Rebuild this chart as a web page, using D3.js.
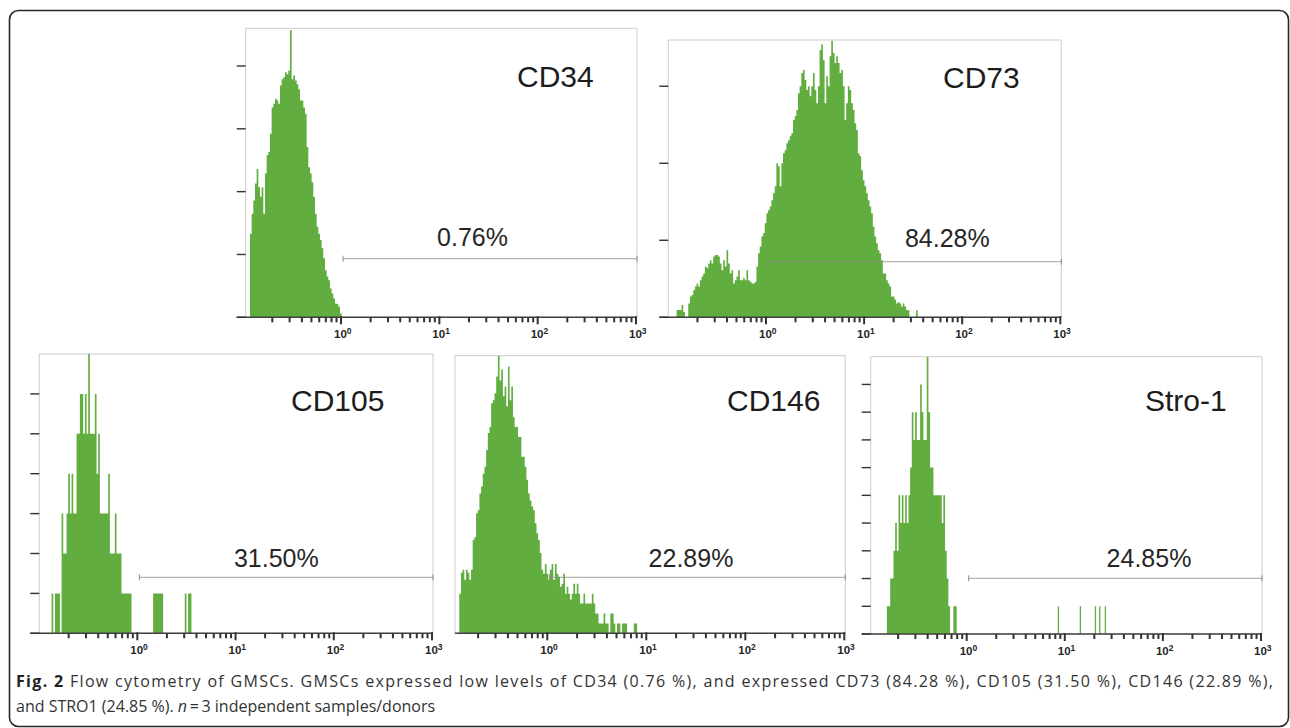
<!DOCTYPE html>
<html>
<head>
<meta charset="utf-8">
<script src="https://cdn.jsdelivr.net/npm/d3@7"></script>
<style>
  body { margin: 0; background: #fff; }
  svg { display: block; }
  .box { fill: none; stroke: #cdcdcd; stroke-width: 1; }
  .axis-line { stroke: #404040; stroke-width: 1.4; }
  .tk { fill: #333; }
  .hist { fill: #62ad3f; }
  .gate { stroke: #8c8c8c; stroke-width: 1; }
  .marker { font-family: "Liberation Sans", Arial, sans-serif; font-size: 30px; fill: #1c1c1c; }
  .pct { font-family: "Liberation Sans", Arial, sans-serif; font-size: 25px; fill: #262626; text-anchor: middle; }
  .dec { font-family: "Liberation Sans", Arial, sans-serif; font-size: 11.5px; font-weight: bold; fill: #262626; }
  .caption { font-family: "Open Sans", sans-serif; font-size: 16px; fill: #333; }
</style>
</head>
<body>
<div id="chart-area"></div>
<script>
const markers = ["CD34", "CD73", "CD105", "CD146", "Stro-1"];
const positiveLabels = ["0.76%", "84.28%", "31.50%", "22.89%", "24.85%"];
const decades = [0.1, 1, 10, 100];
const decadeTicks = [1, 10, 100, 1000];
const decadeExponents = ["0", "1", "2", "3"];
const minorSteps = [2, 3, 4, 5, 6, 7, 8, 9];
const binsPerDecade = 59;

// counts per channel (channel 0 starts at firstChannel)
const cd34Counts = [13.3, 16.5, 18.6, 21.3, 23.6, 20.7, 19.2, 20.7, 16.5, 22.9, 25.8, 26.3, 29.2, 33.4, 34.0,
    34.8, 34.5, 34.0, 36.9, 37.9, 38.2, 39.0, 38.7, 39.3, 45.7, 37.9, 38.5, 37.7, 37.1, 36.3, 34.5, 34.5, 33.4,
    32.4, 27.1, 23.9, 22.9, 21.5, 19.2, 16.5, 14.4, 13.3, 12.3, 11.0, 9.4, 7.5, 6.5, 5.9, 4.6, 3.8, 3.0, 2.2,
    2.1, 1.7, 0.6];
const cd73Counts = [0.95, 0.95, 0.95, 1.6, 0.7, 0, 0, 1.8, 2.7, 2.9,
    3.5, 4.0, 4.4, 4.0, 4.8, 5.3, 5.7, 6.6, 6.4, 7.0,
    7.4, 7.0, 7.9, 8.1, 8.1, 7.9, 7.0, 6.1, 7.4, 6.6,
    8.7, 7.0, 5.7, 6.1, 4.4, 4.8, 5.3, 6.1, 4.8, 4.8,
    5.1, 4.8, 6.1, 4.8, 4.6, 4.4, 4.4, 4.6, 6.6, 8.3,
    9.2, 10.5, 10.9, 12.2, 13.5, 13.9, 14.4, 15.2, 16.1, 17.0,
    20.0, 19.6, 17.0, 20.0, 21.3, 21.7, 22.6, 23.0, 23.5, 23.9,
    25.6, 26.1, 26.9, 29.1, 30.0, 31.7, 32.1, 30.8, 29.5, 30.0,
    28.7, 30.0, 31.7, 29.5, 27.8, 30.0, 34.7, 35.4, 33.4, 27.8,
    31.3, 30.0, 33.9, 35.9, 34.3, 33.0, 33.9, 33.0, 31.7, 32.1,
    30.0, 25.6, 27.8, 30.0, 29.5, 27.8, 26.9, 25.2, 24.3, 21.3,
    20.9, 19.1, 17.8, 17.0, 16.1, 15.2, 14.4, 13.5, 11.8, 10.5,
    9.6, 8.7, 8.3, 7.4, 5.7, 5.7, 4.8, 4.4, 4.0, 2.7,
    2.7, 2.3, 1.8, 2.0, 1.8, 1.4, 1.8, 1.4, 0.95, 0.9,
    0, 0, 0, 0, 0.9];
const cd105Counts = [1, 0, 1, 1, 1, 0, 3, 2, 2, 3, 4, 3, 4, 3, 3, 5, 5, 6, 6, 5, 6, 5, 7, 5, 5, 5, 6, 4, 5, 3,
    3, 3, 3, 3, 4, 2, 2, 2, 3, 2, 2, 2, 1, 1, 1, 1, 1, 1,
    0, 0, 0, 0, 0, 0, 0, 0, 0, 0, 0, 0, 0,
    1, 1, 1, 1, 1, 1,
    0, 0, 0, 0, 0, 0, 0, 0, 0, 0, 0, 0, 0,
    1, 0, 1, 1];
const cd146Counts = [4.0, 6.1, 6.4, 5.4, 6.4, 6.1, 5.4, 6.4, 9.4, 9.7,
    12.1, 12.4, 14.1, 14.8, 16.1, 16.8, 18.5, 20.2, 20.8, 23.2,
    23.5, 24.2, 25.9, 28.0, 25.5, 26.6, 23.9, 24.9, 22.9, 26.9,
    23.5, 24.9, 21.8, 20.8, 20.8, 19.8, 19.8, 17.8, 17.8, 16.8,
    15.5, 14.1, 13.4, 12.8, 12.4, 11.1, 10.1, 9.4, 8.1, 6.4,
    6, 7, 6, 5.4, 6.4, 7, 5.4, 7, 6, 5.7,
    4.7, 5, 6, 4, 4.7, 4, 3.4, 4, 5, 4,
    5, 4, 3, 3, 4, 3, 3, 3, 3, 4,
    3, 2, 2, 1, 1, 1, 2, 1, 1, 0,
    2, 2, 1, 0, 1, 1, 0, 1, 1, 1,
    0, 0, 0, 0, 1, 1];
const stro1Counts = [1, 1, 2, 2, 3, 4, 3, 5, 4, 5, 4, 5, 4, 5, 6, 8, 7, 8, 7, 7, 9, 8, 7, 7, 10, 8, 6, 6, 5, 5,
    5, 5, 5, 4, 5, 3, 2, 1, 0, 0, 1, 1];
// single events far out on the axis (fluorescence value, one count each)
const stro1Rare = [8.6, 14.4, 20.5, 22.7, 25.9];

const firstChannel = [0.1186, 0.1227, 0.1340, 0.1291, 0.1535];
const yMax = [46, 36, 7, 28, 10];
const yTickCount = [5, 4, 7, 0, 10];

const panels = [
    { counts: cd34Counts, rare: [], x0: 242.7, x1: 636.0, top: 28.3, bottom: 317.3, boxLeft: 245.7,
      label: [517, 86.7], pct: [472.5, 246], gateY: 258.7 },
    { counts: cd73Counts, rare: [], x0: 667.9, x1: 1060.3, top: 40, bottom: 317.3, boxLeft: 668.3,
      label: [943, 88.3], pct: [947.3, 246.7], gateY: 261.7 },
    { counts: cd105Counts, rare: [], x0: 39.1, x1: 432.0, top: 354, bottom: 633.3, boxLeft: 39.3,
      label: [291, 410.7], pct: [276.3, 566.7], gateY: 577.3 },
    { counts: cd146Counts, rare: [], x0: 448.3, x1: 844.3, top: 355.7, bottom: 633.3, boxLeft: 455,
      label: [727, 410.7], pct: [691, 566.7], gateY: 577.3 },
    { counts: stro1Counts, rare: stro1Rare, x0: 868.6, x1: 1261.0, top: 356.7, bottom: 634, boxLeft: 870.7,
      label: [1145, 410.7], pct: [1149, 566.7], gateY: 578.3 },
];

const svg = d3.select("#chart-area").append("svg")
    .attr("width", 1290)
    .attr("height", 728);

svg.append("rect")
    .attr("x", 9.5).attr("y", 10.5)
    .attr("width", 1279).attr("height", 716)
    .attr("rx", 9)
    .attr("fill", "none")
    .attr("stroke", "#262626")
    .attr("stroke-width", 1.6);

const drawPanel = function (p, k) {
    const g = svg.append("g").attr("class", "panel");
    const x = d3.scaleLog().domain([0.1, 1000]).range([p.x0, p.x1]);
    const y = d3.scaleLinear().domain([0, yMax[k]]).range([p.bottom, p.top]);
    const right = p.x1 + 1;

    g.append("rect")
        .attr("class", "box")
        .attr("x", p.boxLeft).attr("y", p.top)
        .attr("width", right - p.boxLeft).attr("height", p.bottom - p.top);

    // histogram
    const edges = p.counts.map((c, i) => ({ v: firstChannel[k] * Math.pow(10, i / binsPerDecade), c: c }));
    edges.push({ v: firstChannel[k] * Math.pow(10, p.counts.length / binsPerDecade), c: p.counts[p.counts.length - 1] });
    const area = d3.area()
        .x(d => x(d.v))
        .y0(y(0))
        .y1(d => y(d.c))
        .curve(d3.curveStepAfter);
    g.append("path").attr("class", "hist").attr("d", area(edges));

    g.selectAll(".rare")
        .data(p.rare)
        .join("rect")
        .attr("class", "hist")
        .attr("x", d => x(d) - 0.6)
        .attr("y", y(1))
        .attr("width", 1.3)
        .attr("height", y(0) - y(1));

    // gate marker
    const gx0 = x(1) + 2;
    g.append("line").attr("class", "gate")
        .attr("x1", gx0).attr("x2", right).attr("y1", p.gateY).attr("y2", p.gateY)
        .attr("opacity", 0.8);
    [gx0, right].forEach(gx => {
        g.append("line").attr("class", "gate")
            .attr("x1", gx).attr("x2", gx).attr("y1", p.gateY - 3).attr("y2", p.gateY + 3);
    });

    // x axis
    const yLeft = yTickCount[k] ? p.boxLeft - 9 : p.boxLeft;
    g.append("line").attr("class", "axis-line")
        .attr("x1", yLeft).attr("x2", right)
        .attr("y1", p.bottom).attr("y2", p.bottom);

    const minorTicks = decades.flatMap(d => minorSteps.map(m => d * m));
    g.selectAll(".xminor")
        .data(minorTicks)
        .join("rect")
        .attr("class", "tk")
        .attr("x", d => x(d) - 1)
        .attr("y", p.bottom)
        .attr("width", 2)
        .attr("height", 5);
    g.selectAll(".xmajor")
        .data(decadeTicks)
        .join("rect")
        .attr("class", "tk")
        .attr("x", d => x(d) - 1)
        .attr("y", p.bottom - 1)
        .attr("width", 2)
        .attr("height", 8);

    decadeTicks.forEach((t, i) => {
        const lab = g.append("text").attr("class", "dec")
            .attr("x", x(t) - 7).attr("y", p.bottom + 20.5);
        lab.append("tspan").text("10");
        lab.append("tspan").attr("dy", -4).attr("font-size", "8.5px").text(decadeExponents[i]);
    });

    // y ticks
    if (yTickCount[k]) {
        const yt = y.ticks(yTickCount[k]).filter(t => t < yMax[k]);
        g.selectAll(".yt")
            .data(yt)
            .join("rect")
            .attr("class", "tk")
            .attr("x", p.boxLeft - 9)
            .attr("y", d => y(d) - 0.7)
            .attr("width", 9)
            .attr("height", 1.4);
    }

    g.append("text").attr("class", "marker")
        .attr("x", p.label[0]).attr("y", p.label[1])
        .text(markers[k]);
    g.append("text").attr("class", "pct")
        .attr("x", p.pct[0]).attr("y", p.pct[1])
        .text(positiveLabels[k]);
};

panels.forEach(drawPanel);

// caption
const cap1 = svg.append("text").attr("class", "caption")
    .attr("x", 16).attr("y", 687)
    .attr("textLength", 1257).attr("lengthAdjust", "spacing");
cap1.append("tspan").attr("font-weight", "bold").attr("fill", "#222").text("Fig. 2");
cap1.append("tspan").text(" Flow cytometry of GMSCs. GMSCs expressed low levels of CD34 (0.76 %), and expressed CD73 (84.28 %), CD105 (31.50 %), CD146 (22.89 %),");

const cap2 = svg.append("text").attr("class", "caption")
    .attr("x", 16).attr("y", 712);
cap2.append("tspan").text("and STRO1 (24.85 %). ");
cap2.append("tspan").attr("font-style", "italic").text("n");
cap2.append("tspan").text("\u2009=\u20093 independent samples/donors");
</script>
</body>
</html>
